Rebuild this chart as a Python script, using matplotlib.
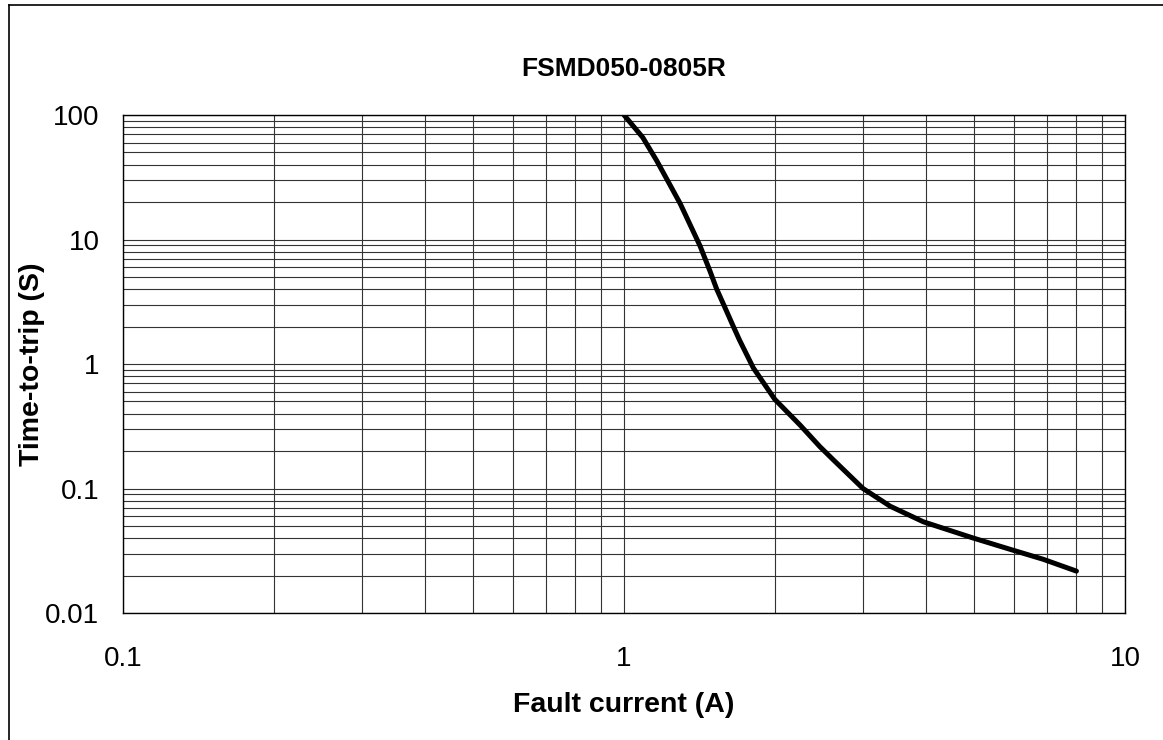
import numpy as np
import matplotlib.pyplot as plt
from matplotlib.lines import Line2D
from matplotlib.ticker import LogLocator, NullFormatter

plt.rcParams['font.family'] = ['Liberation Sans', 'DejaVu Sans']

# Trip curve
current = [1.0, 1.09, 1.162, 1.235, 1.294, 1.418, 1.484, 1.531, 1.606,
           1.653, 1.70, 1.812, 2.0, 2.245, 2.46, 2.617, 3.0, 3.40, 3.96,
           4.98, 5.97, 6.87, 8.0]
tripTime = [100, 66, 43, 27.5, 19.5, 8.9, 5.6, 4.0, 2.6,
            2.0, 1.56, 0.93, 0.52, 0.324, 0.217, 0.17, 0.10, 0.072, 0.054,
            0.040, 0.032, 0.027, 0.0217]

xTicks = [0.1, 1, 10]
xTickLabels = ['0.1', '1', '10']
yTicks = [0.01, 0.1, 1, 10, 100]
yTickLabels = ['0.01', '0.1', '1', '10', '100']

fig = plt.figure(figsize=(11.63, 7.40), dpi=100)
ax = fig.add_axes([0.1058, 0.1716, 0.8615, 0.673])

ax.plot(current, tripTime, color='k', linewidth=3.6,
        solid_capstyle='round', solid_joinstyle='round')

ax.set_xscale('log')
ax.set_yscale('log')
ax.set_xlim(0.1, 10)
ax.set_ylim(0.01, 100)

ax.set_xticks(xTicks, xTickLabels)
ax.set_yticks(yTicks, yTickLabels)
ax.xaxis.set_minor_locator(LogLocator(base=10, subs=np.arange(2, 10)))
ax.yaxis.set_minor_locator(LogLocator(base=10, subs=np.arange(2, 10)))
ax.xaxis.set_minor_formatter(NullFormatter())
ax.yaxis.set_minor_formatter(NullFormatter())
ax.tick_params(which='both', length=0, labelsize=20)
ax.tick_params(axis='y', pad=17)
ax.tick_params(axis='x', pad=24)

ax.grid(True, which='both', color='0.2', linestyle='-', linewidth=0.8)
for s in ax.spines.values():
    s.set_color('k')
    s.set_linewidth(1.0)

ax.set_xlabel('Fault current (A)', fontsize=20.5, fontweight='bold', labelpad=14)
ax.set_ylabel('Time-to-trip (S)', fontsize=20.5, fontweight='bold', labelpad=0)
ax.set_title('FSMD050-0805R', fontsize=19, fontweight='bold', pad=28)

# outer frame (left and top edges visible)
x0 = 8.5 / 1163
y0 = 1 - 4.5 / 740
fig.add_artist(Line2D([x0, x0], [0, y0], transform=fig.transFigure, color='k', linewidth=1.2))
fig.add_artist(Line2D([x0, 1], [y0, y0], transform=fig.transFigure, color='k', linewidth=1.2))

plt.savefig('out.png', dpi=100)
